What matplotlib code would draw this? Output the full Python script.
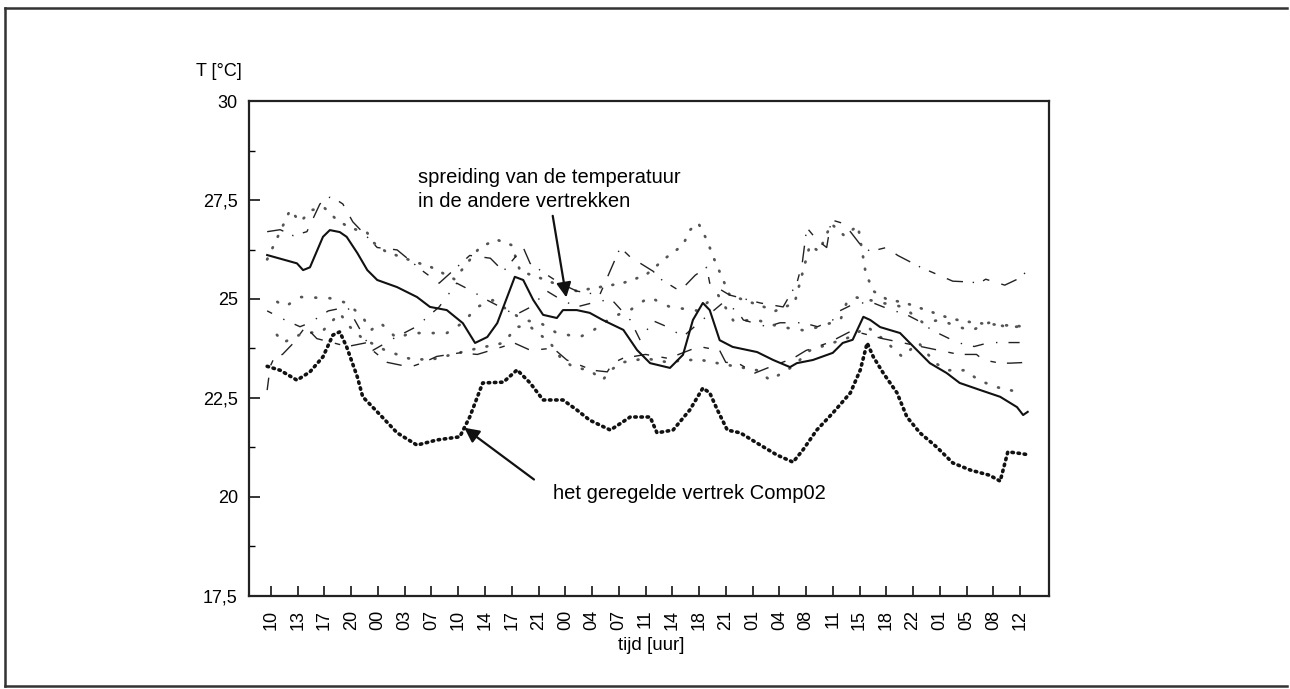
import numpy as np
import matplotlib.pyplot as plt
from matplotlib.lines import Line2D
from matplotlib.ticker import FixedLocator

plt.rcParams['font.family'] = ['Liberation Sans', 'DejaVu Sans']

# time axis: hours counted from midnight of day 1, ticks every 3.5 h
tick_hours = [10 + 3.5 * i for i in range(29)]
tick_labels = ['10', '13', '17', '20', '00', '03', '07', '10', '14', '17', '21', '00',
               '04', '07', '11', '14', '18', '21', '01', '04', '08', '11', '15', '18',
               '22', '01', '05', '08', '12']

# controlled room Comp02
comp_h = [9.5, 11.2, 13.4, 15.1, 16.8, 18.1, 19.0, 19.9, 21.3, 22.0, 24.3, 26.5, 29.1,
          31.7, 34.7, 36.0, 37.7, 40.4, 42.2, 43.9, 45.6, 48.2, 50.0, 51.7, 54.4, 57.0,
          59.6, 60.5, 62.6, 64.8, 66.5, 67.4, 68.4, 69.7, 71.4, 73.6, 76.2, 78.3, 79.6,
          81.4, 83.5, 85.8, 87.1, 88.0, 88.8, 90.1, 91.9, 93.2, 94.9, 97.1, 99.2, 101.5,
          104.0, 105.4, 106.4, 108.0, 109.3]
comp_t = [23.3, 23.2, 22.95, 23.16, 23.54, 24.09, 24.17, 23.79, 23.03, 22.53, 22.07,
          21.62, 21.31, 21.44, 21.52, 22.02, 22.88, 22.90, 23.21, 22.88, 22.45, 22.45,
          22.2, 21.94, 21.69, 22.02, 22.02, 21.62, 21.69, 22.2, 22.75, 22.63, 22.2, 21.69,
          21.62, 21.36, 21.06, 20.88, 21.19, 21.69, 22.12, 22.63, 23.21, 23.89, 23.54,
          23.13, 22.63, 22.02, 21.62, 21.26, 20.86, 20.68, 20.55, 20.40, 21.14, 21.1, 21.06]

# room drawn with a solid line
solid_h = [9.5, 13.4, 14.2, 15.1, 16.8, 17.7, 19.0, 19.9, 21.3, 22.6, 23.9, 26.5, 29.1,
           30.8, 33.0, 35.1, 36.7, 38.3, 39.6, 40.9, 41.9, 43.0, 44.3, 45.6, 47.4, 48.2,
           50.0, 51.7, 53.4, 56.1, 57.9, 59.6, 62.2, 63.9, 65.2, 66.5, 67.4, 68.7, 70.4,
           73.6, 75.7, 77.9, 78.8, 80.9, 83.5, 84.8, 86.1, 87.5, 88.4, 89.7, 92.3, 94.5,
           96.2, 98.4, 100.1, 102.8, 105.4, 107.6, 108.4, 109.0]
solid_t = [26.11, 25.9, 25.73, 25.8, 26.57, 26.74, 26.69, 26.57, 26.16, 25.73, 25.48,
           25.3, 25.05, 24.8, 24.72, 24.39, 23.89, 24.04, 24.39, 25.05, 25.56, 25.48, 24.98,
           24.6, 24.52, 24.72, 24.72, 24.65, 24.47, 24.22, 23.71, 23.38, 23.26, 23.59, 24.47,
           24.9, 24.72, 23.96, 23.79, 23.66, 23.46, 23.28, 23.38, 23.46, 23.64, 23.89, 23.97,
           24.55, 24.47, 24.29, 24.14, 23.71, 23.38, 23.13, 22.88, 22.7, 22.53, 22.27, 22.07,
           22.15]

# other rooms (the spread)
roomA_h = [9.5, 11.2, 12.9, 14.7, 16.4, 17.7, 18.6, 19.4, 20.7, 23.9, 26.5, 29.9, 32.0,
           34.3, 36.0, 38.7, 40.4, 43.0, 43.9, 46.5, 47.8, 50.0, 53.0, 55.7, 57.0, 60.0,
           61.0, 63.5, 65.5, 67.0, 67.4, 70.0, 74.0, 77.0, 78.8, 79.5, 80.1, 81.4, 82.7,
           83.3, 85.0, 87.0, 88.4, 90.5, 92.0, 95.0, 96.2, 99.2, 101.4, 102.7, 103.5,
           106.0, 108.2, 109.0]
roomA_t = [26.7, 26.75, 26.6, 26.7, 27.4, 27.57, 27.5, 27.4, 26.95, 26.3, 26.24, 25.7,
           25.4, 25.8, 26.1, 26.03, 25.7, 26.3, 25.9, 25.56, 25.4, 25.2, 25.1, 26.3, 26.06,
           25.7, 25.5, 25.2, 25.6, 25.8, 25.4, 25.1, 24.9, 24.8, 25.4, 25.9, 26.8, 26.5,
           26.3, 27.0, 26.9, 26.4, 26.2, 26.3, 26.1, 25.8, 25.7, 25.45, 25.43, 25.4, 25.5,
           25.35, 25.55, 25.75]

roomB_h = [9.5, 11.8, 12.5, 13.8, 15.4, 17.0, 18.6, 20.3, 22.6, 23.3, 25.0, 28.2, 31.0,
           34.0, 37.3, 39.5, 41.5, 42.6, 44.8, 47.0, 50.0, 53.0, 56.0, 59.0, 61.8, 63.9,
           64.8, 65.9, 67.0, 68.0, 70.0, 73.0, 76.0, 78.5, 80.5, 81.7, 83.3, 85.0, 86.8,
           87.8, 88.8, 90.5, 93.0, 96.0, 99.0, 102.0, 105.0, 109.0]
roomB_t = [26.0, 26.95, 27.25, 26.95, 27.25, 27.3, 27.0, 26.8, 26.67, 26.44, 26.2, 25.98,
           25.8, 25.5, 26.3, 26.5, 26.36, 25.7, 25.56, 25.4, 25.2, 25.3, 25.4, 25.6, 26.06,
           26.36, 26.74, 26.92, 26.5, 26.0, 25.1, 24.9, 24.7, 24.9, 26.36, 26.2, 26.9, 26.6,
           26.85, 25.66, 25.2, 25.0, 24.9, 24.7, 24.5, 24.4, 24.35, 24.3]

roomC_h = [9.5, 11.5, 13.8, 15.1, 17.5, 20.0, 22.6, 23.3, 26.0, 29.0, 32.0, 34.3, 36.3,
           38.0, 40.0, 42.0, 44.0, 46.1, 47.8, 50.0, 52.0, 54.5, 57.0, 58.3, 60.0, 61.8,
           63.9, 66.0, 69.1, 71.0, 71.8, 74.9, 76.6, 79.6, 81.5, 83.5, 84.4, 86.5, 88.8,
           91.4, 92.7, 94.5, 96.6, 99.8, 102.0, 104.0, 106.3, 109.0]
roomC_t = [24.7, 24.5, 24.3, 24.4, 24.7, 24.8, 23.9, 23.7, 24.0, 24.3, 24.8, 25.4, 25.2,
           25.0, 24.8, 24.6, 24.8, 25.2, 25.0, 24.8, 24.9, 25.0, 24.47, 23.96, 24.45, 24.3,
           24.05, 24.4, 24.9, 24.7, 24.47, 24.3, 24.4, 24.4, 24.3, 24.47, 24.7, 24.9, 24.9,
           24.7, 24.65, 24.47, 24.2, 23.9, 23.8, 23.9, 23.9, 23.9]

roomD_h = [9.9, 11.8, 13.8, 17.7, 19.9, 22.0, 23.0, 24.3, 26.5, 28.2, 30.8, 33.0, 35.1,
           37.0, 39.0, 43.0, 45.2, 47.4, 50.4, 52.1, 54.7, 57.0, 58.3, 59.6, 61.0, 62.2,
           66.0, 67.4, 68.5, 70.5, 73.6, 76.5, 80.0, 84.5, 85.3, 86.3, 88.4, 90.0, 92.7,
           95.3, 97.5, 99.9, 101.6, 103.9, 106.2, 109.0]
roomD_t = [25.05, 24.8, 25.05, 25.02, 24.9, 24.55, 24.2, 24.4, 24.0, 24.14, 24.14, 24.14,
           24.4, 24.8, 24.97, 24.47, 24.4, 24.14, 24.04, 24.2, 24.55, 24.72, 24.9, 25.05,
           24.9, 24.8, 24.7, 24.97, 25.1, 24.45, 24.47, 24.3, 24.2, 24.47, 24.9, 25.05,
           24.97, 24.9, 24.8, 24.4, 24.47, 24.3, 24.2, 24.4, 24.3, 24.3]

roomE_h = [9.9, 11.6, 13.8, 16.8, 19.0, 20.3, 22.0, 25.0, 28.0, 30.8, 32.5, 36.0, 40.4,
           42.2, 43.9, 46.5, 47.8, 49.5, 51.7, 53.4, 54.4, 56.0, 59.0, 62.0, 64.1, 66.3,
           68.4, 73.6, 75.3, 78.3, 80.5, 85.8, 88.0, 90.0, 92.6, 94.7, 96.9, 98.6, 100.8,
           102.6, 104.8, 107.8]
roomE_t = [24.3, 23.9, 24.1, 24.2, 24.64, 24.3, 24.0, 23.7, 23.5, 23.46, 23.54, 23.71,
           23.89, 24.3, 24.3, 23.9, 23.54, 23.28, 23.2, 22.95, 23.2, 23.4, 23.5, 23.4, 23.46,
           23.46, 23.38, 23.2, 22.95, 23.3, 23.7, 24.04, 24.3, 24.0, 23.54, 23.9, 23.38,
           23.2, 23.2, 22.95, 22.78, 22.65]

roomF_h = [9.5, 9.9, 10.5, 11.5, 13.0, 14.5, 16.0, 20.0, 22.6, 23.3, 25.2, 28.2, 30.0,
           31.7, 34.7, 37.0, 40.4, 41.7, 44.0, 46.9, 48.7, 52.1, 54.0, 54.7, 56.0, 59.0,
           62.0, 66.0, 68.7, 69.5, 71.1, 73.3, 75.5, 78.3, 80.0, 83.0, 86.0, 90.0, 95.0,
           100.0, 102.3, 103.2, 105.4, 106.7, 109.0]
roomF_t = [22.7, 23.3, 23.55, 23.6, 23.9, 24.3, 24.0, 23.8, 23.9, 23.7, 23.4, 23.28, 23.4,
           23.55, 23.64, 23.6, 23.8, 23.9, 23.7, 23.76, 23.46, 23.2, 23.16, 23.38, 23.5,
           23.6, 23.5, 23.8, 23.7, 23.4, 23.38, 23.13, 23.3, 23.5, 23.7, 23.9, 24.2, 24.0,
           23.8, 23.6, 23.6, 23.46, 23.38, 23.38, 23.4]

fig = plt.figure(figsize=(12.9, 6.89), dpi=100)
ax = fig.add_axes([0.1930, 0.1350, 0.6202, 0.7184])

dot_style = dict(color='#555555', lw=2.0, dash_capstyle='round', solid_capstyle='round')
ax.plot(roomB_h, roomB_t, ls=(0, (0.3, 4.2)), **dot_style)
ax.plot(roomD_h, roomD_t, ls=(2, (0.3, 4.8)), **dot_style)
ax.plot(roomE_h, roomE_t, ls=(1, (0.3, 4.5)), **dot_style)
ax.plot(roomA_h, roomA_t, color='#222222', lw=1.0, ls=(0, (12, 7, 1, 7, 5, 9)))
ax.plot(roomC_h, roomC_t, color='#222222', lw=1.0, ls=(4, (8, 9, 1, 8)))
ax.plot(roomF_h, roomF_t, color='#222222', lw=1.0, ls=(2, (11, 9, 4, 8)))
ax.plot(solid_h, solid_t, color='#111111', lw=1.5)
ax.plot(comp_h, comp_t, color='#111111', lw=2.6, ls=(0, (0.4, 1.3)),
        dash_capstyle='round')

ax.set_xlim(7.12, 111.79)
ax.set_ylim(17.5, 30)
ax.set_xticks(tick_hours)
ax.set_xticklabels(tick_labels, rotation=90, fontsize=13)
ax.set_yticks([17.5, 20, 22.5, 25, 27.5, 30])
ax.set_yticklabels(['17,5', '20', '22,5', '25', '27,5', '30'], fontsize=13)
ax.yaxis.set_minor_locator(FixedLocator([18.75, 21.25, 23.75, 26.25, 28.75]))
ax.tick_params(axis='x', direction='in', length=7.5, width=1.1, pad=10)
ax.tick_params(axis='y', which='major', direction='in', length=8, width=1.1, pad=8)
ax.tick_params(axis='y', which='minor', direction='in', length=4, width=1.0)
for s in ax.spines.values():
    s.set_linewidth(1.6)
    s.set_color('#222222')

ax.text(29.2, 27.77, 'spreiding van de temperatuur\nin de andere vertrekken',
        fontsize=14.5, ha='left', va='center', linespacing=1.3)
ax.annotate('', xy=(48.7, 24.97), xytext=(46.8, 27.17),
            arrowprops=dict(arrowstyle='-|>', color='#111111', lw=1.6, mutation_scale=22))
ax.text(46.9, 20.1, 'het geregelde vertrek Comp02', fontsize=14.5, ha='left', va='center')
ax.annotate('', xy=(35.0, 21.79), xytext=(44.7, 20.4),
            arrowprops=dict(arrowstyle='-|>', color='#111111', lw=1.6, mutation_scale=22))

fig.text(196 / 1290, 1 - 72 / 689, 'T [°C]', fontsize=13, ha='left', va='center')
fig.text(651 / 1290, 1 - 645 / 689, 'tijd [uur]', fontsize=13.5, ha='center', va='center')

# frame of the scanned page
fig.add_artist(Line2D([0.004, 0.998], [0.988, 0.988], color='#333333', lw=1.8))
fig.add_artist(Line2D([0.004, 0.004], [0.004, 0.988], color='#333333', lw=1.8))
fig.add_artist(Line2D([0.004, 0.998], [0.004, 0.004], color='#333333', lw=1.8))

fig.savefig('out.png', dpi=100)
